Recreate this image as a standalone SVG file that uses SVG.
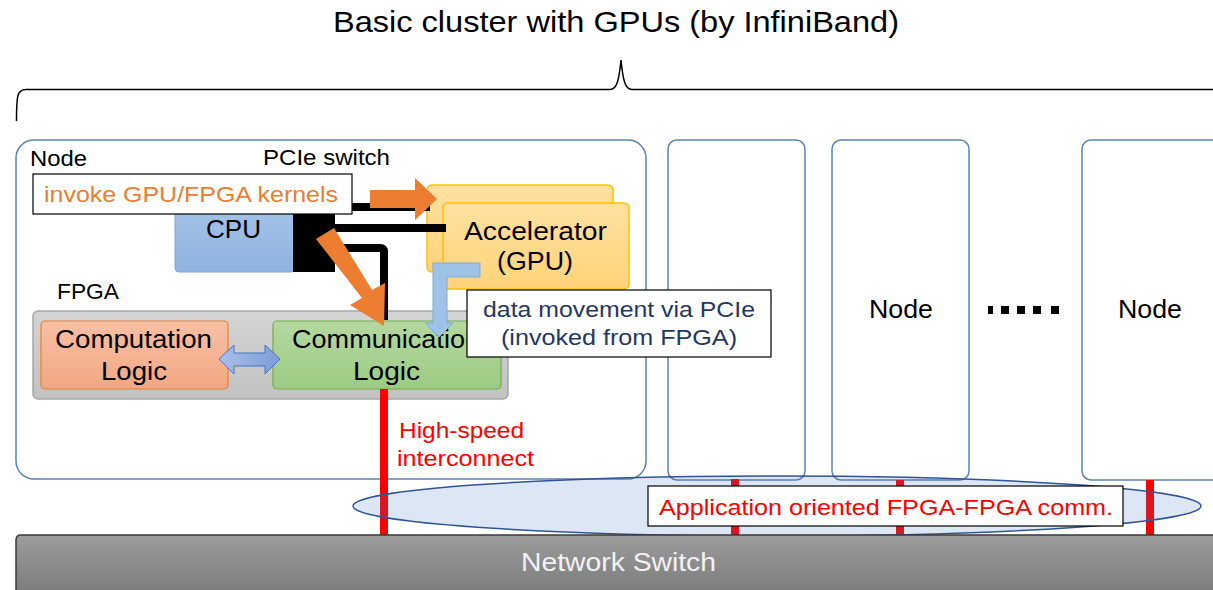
<svg xmlns="http://www.w3.org/2000/svg" width="1213" height="590" viewBox="0 0 1213 590">
<defs>
<linearGradient id="gSwitch" x1="0" y1="0" x2="0" y2="1"><stop offset="0" stop-color="#9c9c9c"/><stop offset="1" stop-color="#787878"/></linearGradient>
<linearGradient id="gCpu" x1="0" y1="0" x2="0" y2="1"><stop offset="0" stop-color="#abc7ea"/><stop offset="1" stop-color="#8fb3df"/></linearGradient>
<linearGradient id="gAcc" x1="0" y1="0" x2="0" y2="1"><stop offset="0" stop-color="#ffe1a0"/><stop offset="1" stop-color="#ffd37a"/></linearGradient>
<linearGradient id="gFpga" x1="0" y1="0" x2="0" y2="1"><stop offset="0" stop-color="#d4d4d4"/><stop offset="1" stop-color="#c2c2c2"/></linearGradient>
<linearGradient id="gComp" x1="0" y1="0" x2="0" y2="1"><stop offset="0" stop-color="#f7c0a4"/><stop offset="1" stop-color="#f3a783"/></linearGradient>
<linearGradient id="gComm" x1="0" y1="0" x2="0" y2="1"><stop offset="0" stop-color="#b5d8a0"/><stop offset="1" stop-color="#9ccb83"/></linearGradient>
<linearGradient id="gDbl" x1="0" y1="0" x2="1" y2="0"><stop offset="0" stop-color="#a9c0e8"/><stop offset="1" stop-color="#7d9bd8"/></linearGradient>
</defs>
<style>
text{font-family:"Liberation Sans","Noto Sans",Arial,sans-serif;}
.node{fill:#ffffff;stroke:#5b84b1;stroke-width:1.5;}
.lbl{font-size:22px;fill:#000;}
.big{font-size:26px;fill:#000;}
.t21{font-size:22px;}
.red{fill:#ff0000;}
.bus{stroke:#000;stroke-width:8;fill:none;}
.ic{stroke:#ff0000;stroke-width:8;}
.tbox{fill:#ffffff;stroke:#000;stroke-width:1.2;}
</style>

<text x="333" y="32" textLength="566" lengthAdjust="spacingAndGlyphs" style="font-size:30px" fill="#000">Basic cluster with GPUs (by InfiniBand)</text>
<path d="M16.5,121 C16.5,96 17,89.5 26,89.5 L610,89.5 C617,89.5 619,80 621,60 C623,80 625,89.5 632,89.5 L1213,89.5" fill="none" stroke="#000" stroke-width="1.5"/>

<g id="node1">
<rect class="node" x="16" y="140" width="630" height="339" rx="18"/>
<text class="lbl" x="30" y="166" textLength="57" lengthAdjust="spacingAndGlyphs">Node</text>
<text class="lbl" x="263" y="165" textLength="127" lengthAdjust="spacingAndGlyphs">PCIe switch</text>
<text class="lbl" x="57" y="299" textLength="62" lengthAdjust="spacingAndGlyphs">FPGA</text>
</g>
<g id="node2"><rect class="node" x="668" y="140" width="137" height="340" rx="9"/></g>
<g id="node3"><rect class="node" x="832" y="140" width="137" height="340" rx="9"/><text class="big" x="869" y="318" textLength="64" lengthAdjust="spacingAndGlyphs">Node</text></g>
<g id="node4"><rect class="node" x="1082" y="140" width="150" height="340" rx="9"/><text class="big" x="1118" y="318" textLength="64" lengthAdjust="spacingAndGlyphs">Node</text></g>
<g id="dots" fill="#000">
<rect x="988" y="306" width="5" height="8"/><rect x="1001" y="306" width="8" height="8"/><rect x="1017" y="306" width="8" height="8"/><rect x="1033" y="306" width="8" height="8"/><rect x="1051" y="306" width="8" height="8"/>
</g>

<g id="cpu">
<rect x="175" y="186" width="120" height="86" rx="4" fill="url(#gCpu)" stroke="#7fa6d6" stroke-width="1"/>
<text class="big" x="206" y="238" textLength="55" lengthAdjust="spacingAndGlyphs">CPU</text>
</g>
<g id="accelerator">
<rect x="427" y="185" width="186" height="87" rx="5" fill="url(#gAcc)" stroke="#ffc000" stroke-width="1.5"/>
<rect x="443" y="203" width="186" height="86" rx="5" fill="url(#gAcc)" stroke="#ffc000" stroke-width="1.5"/>
<text class="big" x="464" y="240" textLength="143" lengthAdjust="spacingAndGlyphs">Accelerator</text>
<text class="big" x="497" y="270" textLength="76" lengthAdjust="spacingAndGlyphs">(GPU)</text>
</g>
<g id="fpga">
<rect x="33" y="311" width="475" height="88" rx="5" fill="url(#gFpga)" stroke="#a6a6a6" stroke-width="1.5"/>
</g>
<g id="computation">
<rect x="41" y="321" width="187" height="68" rx="4" fill="url(#gComp)" stroke="#ed7d31" stroke-width="1.2"/>
<text class="big" x="55" y="348" textLength="157" lengthAdjust="spacingAndGlyphs">Computation</text>
<text class="big" x="101" y="380" textLength="66" lengthAdjust="spacingAndGlyphs">Logic</text>
</g>
<g id="communication">
<rect x="273" y="321" width="228" height="68" rx="4" fill="url(#gComm)" stroke="#70ad47" stroke-width="1.2"/>
<text class="big" x="292" y="348" textLength="188" lengthAdjust="spacingAndGlyphs">Communication</text>
<text class="big" x="353" y="380" textLength="67" lengthAdjust="spacingAndGlyphs">Logic</text>
</g>

<g id="connectors">
<rect x="293" y="200" width="42" height="72" fill="#000"/>
<path class="bus" d="M335,207 L430,207"/>
<path class="bus" d="M335,228 L446,228"/>
<path class="bus" d="M335,248 L380,248 Q384,248 384,252 L384,320"/>
<polygon points="370,190 415,190 415,178 437,199 415,220 415,208 370,208" fill="#ed7d31"/>
<polygon points="316,239 334,228 372,290 385,283 384,326 350,305 362,298" fill="#ed7d31"/>
<path d="M480,263 L480,277 L447,277 L447,323 L453,323 L439,337 L425,323 L433,323 L433,263 Z" fill="#9dc3e6" stroke="#7ea9dc" stroke-width="1"/>
<polygon points="219,359 234,345 234,353 265,353 265,345 280,359 265,374 265,366 234,366 234,374" fill="url(#gDbl)" stroke="#4472c4" stroke-width="1"/>
<line class="ic" x1="384" y1="389" x2="384" y2="535"/>
<line class="ic" x1="735" y1="479" x2="735" y2="535"/>
<line class="ic" x1="900" y1="480" x2="900" y2="535"/>
<line class="ic" x1="1150" y1="480" x2="1150" y2="535"/>
</g>

<g id="invoke-label">
<rect class="tbox" x="33" y="174" width="319" height="40"/>
<text class="t21" x="44" y="202" textLength="294" lengthAdjust="spacingAndGlyphs" fill="#ed7d31">invoke GPU/FPGA kernels</text>
</g>
<g id="data-label">
<rect class="tbox" x="467" y="290" width="304" height="67"/>
<text class="t21" x="483" y="317" textLength="272" lengthAdjust="spacingAndGlyphs" fill="#1f3864">data movement via PCIe</text>
<text class="t21" x="501" y="345" textLength="236" lengthAdjust="spacingAndGlyphs" fill="#1f3864">(invoked from FPGA)</text>
</g>
<g id="hs-label">
<text class="t21 red" x="399" y="438" textLength="125" lengthAdjust="spacingAndGlyphs">High-speed</text>
<text class="t21 red" x="397" y="466" textLength="137" lengthAdjust="spacingAndGlyphs">interconnect</text>
</g>

<g id="fpga-comm-ellipse">
<ellipse cx="777" cy="506" rx="424" ry="30" fill="#4472c4" fill-opacity="0.18" stroke="#2f5597" stroke-width="1.5"/>
<rect class="tbox" x="648" y="486" width="475" height="40"/>
<text class="t21 red" x="659" y="515" textLength="454" lengthAdjust="spacingAndGlyphs">Application oriented FPGA-FPGA comm.</text>
</g>

<g id="network-switch">
<path d="M16,600 L16,540 Q16,535 21,535 L1220,535 L1220,600 Z" fill="url(#gSwitch)" stroke="#3a3a3a" stroke-width="1.5"/>
<text x="521" y="571" textLength="195" lengthAdjust="spacingAndGlyphs" style="font-size:25px" fill="#f2f2f2">Network Switch</text>
</g>
</svg>
